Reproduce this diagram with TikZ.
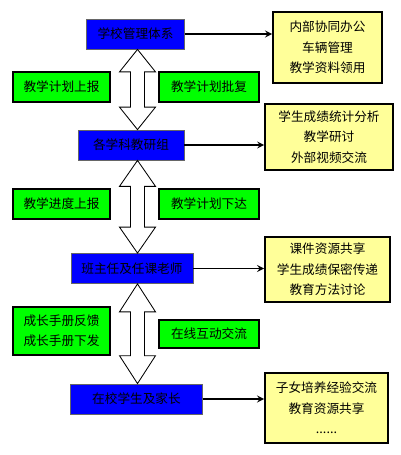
\documentclass[tikz,border=0pt]{standalone}
\usepackage{fontspec}
\usepackage{xcolor}
\usetikzlibrary{calc, positioning, arrows}
\newfontfamily\cjk{Noto Sans CJK SC}
\definecolor{mgrblue}{RGB}{0, 0, 255}
\definecolor{taggreen}{RGB}{0, 255, 0}
\definecolor{infoyellow}{RGB}{255, 255, 153}

% double block arrow between two levels
\newcommand{\updown}[2]{%
  \coordinate (t) at (#1.south -| axis);
  \coordinate (b) at (#2.north -| axis);
  \draw[blockarrow] (t) -- ($(t)!0.28!(b)+(18,0)$) -- ($(t)!0.28!(b)+(7,0)$)
    -- ($(t)!0.72!(b)+(7,0)$) -- ($(t)!0.72!(b)+(18,0)$) -- (b)
    -- ($(t)!0.72!(b)+(-18,0)$) -- ($(t)!0.72!(b)+(-7,0)$)
    -- ($(t)!0.28!(b)+(-7,0)$) -- ($(t)!0.28!(b)+(-18,0)$) -- cycle;}

\begin{document}
\begin{tikzpicture}[x=0.025cm, y=-0.025cm, >=stealth,
    font=\cjk\fontsize{9pt}{14.5pt}\selectfont,
    mgrblock/.style={rectangle, draw=black!60, fill=mgrblue, line width=0.6pt, minimum height=0.75cm, inner sep=0pt, align=center},
    infoblock/.style={rectangle, draw=black, fill=infoyellow, line width=1.1pt, inner sep=0pt, align=center},
    tagblock/.style={rectangle, draw=black, fill=taggreen, line width=0.9pt, minimum height=0.75cm, inner sep=0pt, align=center},
    link/.style={line width=1.2pt, ->},
    blockarrow/.style={draw=black, fill=white, line width=0.6pt, line join=miter}]

    \useasboundingbox (0,0) rectangle (401,455);
    \coordinate (axis) at (137.5,0);

    % Levels
    \node[mgrblock, minimum width=2.43cm] (school) at (135.5,34) {学校管理体系};
    \node[mgrblock, minimum width=2.65cm] (groups) at (131,145) {各学科教研组};
    \node[mgrblock, minimum width=3.05cm] (teachers) at (132,268.5) {班主任及任课老师};
    \node[mgrblock, minimum width=3.28cm] (parents) at (136.5,399) {在校学生及家长};

    % Services
    \node[infoblock, minimum width=2.73cm, minimum height=1.78cm] (school_srv) at (327.5,47.5) {内部协同办公\\车辆管理\\教学资料领用};
    \node[infoblock, minimum width=3.2cm, minimum height=1.65cm] (groups_srv) at (329,137) {学生成绩统计分析\\教学研讨\\外部视频交流};
    \node[infoblock, minimum width=3.13cm, minimum height=1.63cm] (teachers_srv) at (327.5,269.5) {课件资源共享\\学生成绩保密传递\\教育方法讨论};
    \node[infoblock, minimum width=3.08cm, minimum height=1.75cm] (parents_srv) at (326.5,408) {子女培养经验交流\\教育资源共享\\......};

    % Flows
    \node[tagblock, minimum width=2.43cm] (plan_up) at (61.5,87) {教学计划上报};
    \node[tagblock, minimum width=2.5cm] (plan_ok) at (209,87) {教学计划批复};
    \node[tagblock, minimum width=2.43cm] (prog_up) at (61.5,204) {教学进度上报};
    \node[tagblock, minimum width=2.5cm] (plan_down) at (209,204) {教学计划下达};
    \node[tagblock, minimum width=2.43cm, minimum height=1.2cm] (book) at (61.5,331) {成长手册反馈\\成长手册下发};
    \node[tagblock, minimum width=2.5cm, minimum height=0.7cm] (online) at (209,334) {在线互动交流};

    % Connections
    \updown{school}{groups}
    \updown{groups}{teachers}
    \updown{teachers}{parents}
    \draw[link] (school.east) -- (school.east -| school_srv.west);
    \draw[link] (groups.east) -- (groups.east -| groups_srv.west);
    \draw[link] (teachers.east) -- (teachers.east -| teachers_srv.west);
    \draw[link] (parents.east) -- (parents.east -| parents_srv.west);
\end{tikzpicture}
\end{document}
